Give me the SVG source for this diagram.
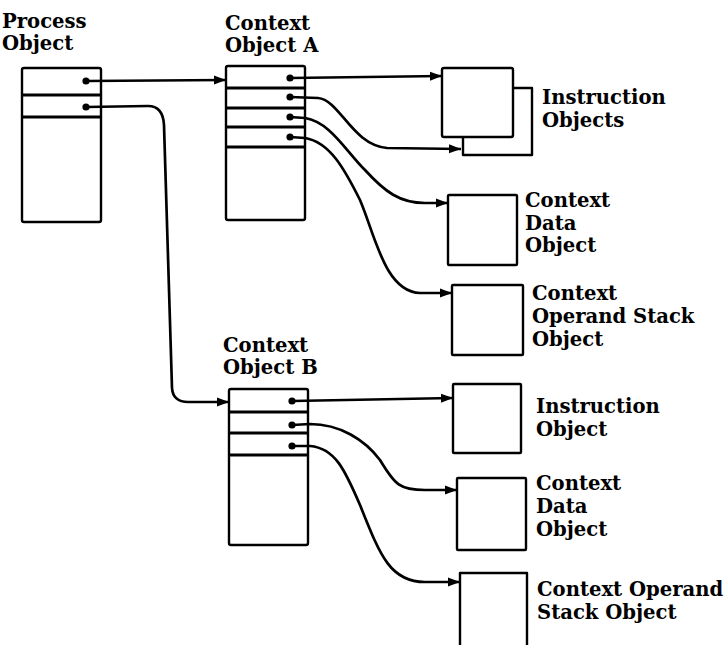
<svg xmlns="http://www.w3.org/2000/svg" width="726" height="645" viewBox="0 0 726 645">
<style>
.box{fill:none;stroke:#000;stroke-width:2.4;stroke-linejoin:round}
.div{stroke:#000;stroke-width:3}
.c{fill:none;stroke:#000;stroke-width:2.7;marker-end:url(#ah);marker-start:url(#dot)}
text{font-family:"DejaVu Serif","Liberation Serif",serif;font-weight:bold;font-size:19.6px;fill:#000}
</style>
<defs>
<marker id="ah" markerUnits="userSpaceOnUse" markerWidth="13" markerHeight="10" refX="12" refY="5" orient="auto">
<path d="M0,0.5 L12,5 L0,9.5 Z" fill="#000"/>
</marker>
<marker id="dot" markerUnits="userSpaceOnUse" markerWidth="9" markerHeight="9" refX="4.5" refY="4.5">
<circle cx="4.5" cy="4.5" r="3.6" fill="#000"/>
</marker>
</defs>
<rect width="726" height="645" fill="#fff"/>

<g id="process-object">
<rect class="box" x="22" y="68" width="79" height="154" rx="2"/>
<line class="div" x1="22" y1="95" x2="101" y2="95"/>
<line class="div" x1="22" y1="117" x2="101" y2="117"/>
<text x="2" y="28">Process</text>
<text x="2" y="50">Object</text>
</g>

<g id="context-object-a">
<rect class="box" x="226" y="66" width="79" height="154" rx="2"/>
<line class="div" x1="226" y1="88" x2="305" y2="88"/>
<line class="div" x1="226" y1="108" x2="305" y2="108"/>
<line class="div" x1="226" y1="127" x2="305" y2="127"/>
<line class="div" x1="226" y1="147" x2="305" y2="147"/>
<text x="225" y="30">Context</text>
<text x="225" y="52">Object A</text>
</g>

<g id="instruction-objects">
<path class="box" d="M513,88 L532,88 L532,155 L463,155 L463,138"/>
<rect class="box" x="442" y="68" width="71" height="69" rx="2"/>
<text x="542" y="104">Instruction</text>
<text x="542" y="127">Objects</text>
</g>

<g id="context-data-object-a">
<rect class="box" x="448" y="195" width="69" height="70" rx="1"/>
<text x="525" y="207">Context</text>
<text x="525" y="230">Data</text>
<text x="525" y="252">Object</text>
</g>

<g id="context-operand-stack-object-a">
<rect class="box" x="452" y="285" width="71" height="70" rx="1"/>
<text x="532" y="300">Context</text>
<text x="532" y="323">Operand Stack</text>
<text x="532" y="346">Object</text>
</g>

<g id="context-object-b">
<rect class="box" x="229" y="389" width="79" height="156" rx="2"/>
<line class="div" x1="229" y1="412" x2="308" y2="412"/>
<line class="div" x1="229" y1="433" x2="308" y2="433"/>
<line class="div" x1="229" y1="455" x2="308" y2="455"/>
<text x="223" y="352">Context</text>
<text x="223" y="374">Object B</text>
</g>

<g id="instruction-object-b">
<rect class="box" x="453" y="384" width="68" height="69" rx="1"/>
<text x="536" y="413">Instruction</text>
<text x="536" y="436">Object</text>
</g>

<g id="context-data-object-b">
<rect class="box" x="457" y="478" width="69" height="72" rx="1"/>
<text x="536" y="490">Context</text>
<text x="536" y="513">Data</text>
<text x="536" y="536">Object</text>
</g>

<g id="context-operand-stack-object-b">
<path class="box" d="M460,646 L460,573 L527,573 L527,646"/>
<text x="537" y="596">Context Operand</text>
<text x="537" y="619">Stack Object</text>
</g>

<g id="connectors">
<path class="c" d="M86,81 L226,80"/>
<path class="c" d="M86,107 L148,106 Q163,106 164,125 L172,388 Q173,402 188,402 L229,402"/>
<path class="c" d="M290,78 L442,76"/>
<path class="c" d="M290,97 L318,98 C340,100 352,145 387,148 L461,149"/>
<path class="c" d="M290,117 L305,118 C330,122 345,150 365,170 C385,192 400,203 425,203 L448,203"/>
<path class="c" d="M290,137 L305,138 C330,142 345,170 360,200 C375,235 385,292 420,293 L452,293"/>
<path class="c" d="M292,401 L453,398"/>
<path class="c" d="M292,425 L310,424 C340,424 365,440 380,460 C395,485 400,490 425,490 L457,490"/>
<path class="c" d="M292,446 L310,446 C335,448 345,470 360,505 C380,555 390,582 425,582 L460,582"/>
</g>
</svg>
